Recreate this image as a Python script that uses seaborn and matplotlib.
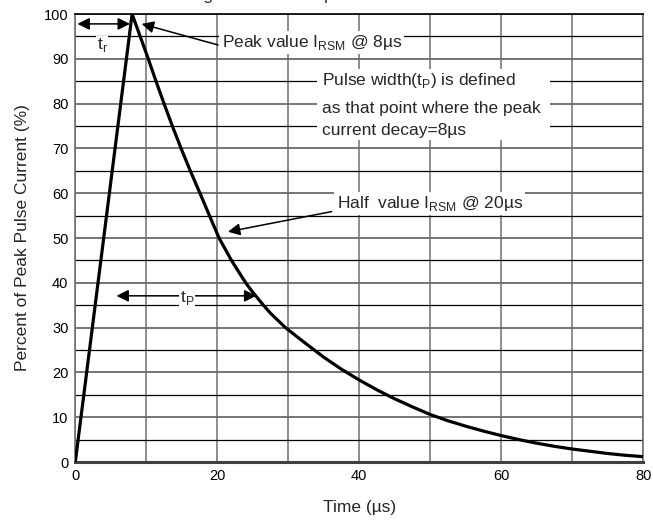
import numpy as np
import pandas as pd
import seaborn as sns
import matplotlib.pyplot as plt
from matplotlib.patches import Rectangle

# values
time_us = [0, 8, 10.28, 11.37, 12.5, 13.67, 14.9, 16.2, 17.56, 18.9, 20.25,
           22.0, 24.0, 25, 26.5, 27.5, 29.6, 32.5, 35, 37.5, 40, 42.5, 45,
           47.5, 50, 52.5, 55, 57.5, 60, 62.5, 65, 67.5, 70, 72.5, 75, 77.5, 80]
pct_peak = [0, 100, 90, 85, 80, 75, 70, 65, 60, 55, 50,
            45, 40, 37.9, 35, 33.2, 30, 26.4, 23.4, 20.7, 18.3, 16.1, 14.1,
            12.3, 10.6, 9.2, 8.0, 6.9, 5.9, 5.0, 4.2, 3.5, 2.9, 2.4, 1.9, 1.5, 1.2]

x_ticks = [0, 20, 40, 60, 80]
y_ticks = [0, 10, 20, 30, 40, 50, 60, 70, 80, 90, 100]

title_text = "Fig.2 - Current impulse waveform"
peak_label = r"Peak value I$_{\mathregular{RSM}}$ @ 8µs"
half_label = r"Half  value I$_{\mathregular{RSM}}$ @ 20µs"
note_lines = [r"Pulse width(t$_{\mathregular{P}}$) is defined",
              "as that point where the peak",
              "current decay=8µs"]

sns.set_style("white")
plt.rcParams["font.family"] = ["Liberation Sans", "DejaVu Sans"]
plt.rcParams["mathtext.fontset"] = "custom"
plt.rcParams["mathtext.rm"] = "Liberation Sans"

df = pd.DataFrame({"Time": time_us, "Percent": pct_peak})

fig = plt.figure(figsize=(6.53, 5.22), dpi=100)
ax = fig.add_axes([0.1153, 0.1149, 0.8698, 0.8582])

sns.lineplot(data=df, x="Time", y="Percent", color="black", lw=2.3, ax=ax, zorder=5)
ax.lines[0].set_solid_joinstyle("round")

ax.set_xlim(0, 80)
ax.set_ylim(0, 100)
ax.set_xticks(x_ticks)
ax.set_xticks(np.arange(0, 81, 10), minor=True)
ax.set_yticks(y_ticks)
ax.set_yticks(np.arange(0, 101, 5), minor=True)
ax.tick_params(which="both", length=0, labelsize=10.5, pad=5, colors="black")

# grid
ax.grid(which="both", axis="x", color="#7a7a7a", lw=1.2)
ax.grid(which="major", axis="y", color="#6a6a6a", lw=1.3)
ax.grid(which="minor", axis="y", color="black", lw=0.9)
ax.set_axisbelow(True)

for side in ["left", "right"]:
    ax.spines[side].set_color("#707070")
    ax.spines[side].set_linewidth(1.2)
ax.spines["top"].set_color("black")
ax.spines["top"].set_linewidth(1.2)
ax.spines["bottom"].set_color("#404040")
ax.spines["bottom"].set_linewidth(2.2)

ax.set_xlabel("Time (µs)", fontsize=12.5, labelpad=12)
ax.set_ylabel("Percent of Peak Pulse Current (%)", fontsize=12.5, labelpad=10)

box = dict(facecolor="white", edgecolor="none", pad=1.5)
arrow = dict(arrowstyle="-|>", color="black", lw=1.1, mutation_scale=18,
             shrinkA=0, shrinkB=0)
arrow2 = dict(arrowstyle="<|-|>", color="black", lw=1.1, mutation_scale=18,
              shrinkA=0, shrinkB=0)

# rise time
ax.annotate("", xy=(7.7, 97.8), xytext=(0.3, 97.8), arrowprops=arrow2, zorder=6)
ax.text(3.8, 93.0, r"t$_{\mathregular{r}}$", fontsize=12.5, ha="center", va="center",
        bbox=dict(facecolor="white", edgecolor="none", pad=0.5), zorder=6)

# peak value
ax.annotate("", xy=(9.35, 97.8), xytext=(20.1, 93.1), arrowprops=arrow, zorder=6)
ax.text(20.6, 93.6, peak_label, fontsize=12.5, ha="left", va="center",
        bbox=box, zorder=6)

# pulse width note on one white patch
ax.add_patch(Rectangle((34.1, 71.9), 32.8, 15.9, facecolor="white",
                       edgecolor="none", zorder=4))
for line, yy in zip(note_lines, [85.2, 78.9, 74.0]):
    ax.text(34.8, yy, line, fontsize=12.5, ha="left", va="center", zorder=6)

# half value
ax.annotate("", xy=(21.5, 51.4), xytext=(36.1, 55.9), arrowprops=arrow, zorder=6)
ax.text(36.8, 57.8, half_label, fontsize=12.5, ha="left", va="center",
        bbox=box, zorder=6)

# pulse width arrow
ax.annotate("", xy=(25.5, 37.1), xytext=(5.8, 37.1), arrowprops=arrow2, zorder=6)
ax.text(15.7, 36.6, r"t$_{\mathregular{P}}$", fontsize=12.5, ha="center", va="center",
        bbox=dict(facecolor="white", edgecolor="none", pad=0.5), zorder=7)

# figure title, clipped at the top edge as in the reference
fig.text(0.289, 1.0, title_text, fontsize=12.5, ha="left", va="baseline")

fig.savefig("out.png", dpi=100)
